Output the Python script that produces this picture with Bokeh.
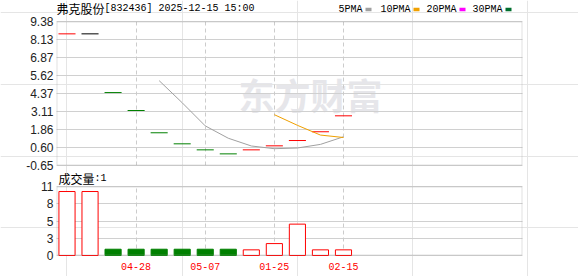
import numpy as np
from bokeh.plotting import figure
from bokeh.models import Range1d, FixedTicker, Label, BoxAnnotation, Grid
from bokeh.core.properties import value
from bokeh.embed import file_html
from bokeh.resources import INLINE

# ---------------- data ----------------
title_name = "弗克股份"
title_code = "[832436] 2025-12-15 15:00"
vol_title = "成交量"
vol_title_num = ":1"
watermark = "东方财富"

closes = [8.52, 8.52, 4.43, 3.18, 1.63, 0.86, 0.44, 0.16, 0.44, 0.72, 1.09, 1.70, 2.81]
volumes = [10.2, 10.2, 1.0, 1.0, 1.0, 1.0, 1.0, 1.0, 0.9, 1.9, 5.0, 0.9, 0.9]
ma5 = [np.nan, np.nan, np.nan, np.nan, 5.26, 3.72, 2.11, 1.25, 0.71, 0.52, 0.57, 0.82, 1.35]
ma10 = [np.nan] * 9 + [2.89, 2.15, 1.47, 1.30]

date_tick_idx = [3, 6, 9, 12]
date_tick_labels = ["04-28", "05-07", "01-25", "02-15"]

price_tick_labels = ["-0.65", "0.60", "1.86", "3.11", "4.37", "5.62", "6.87", "8.13", "9.38"]
price_min, price_max = -0.65, 9.38
vol_tick_labels = ["0", "3", "5", "8", "11"]
vol_max = 11

legend_names = ["5PMA", "10PMA", "20PMA", "30PMA"]
legend_colors = ["#a0a0a0", "#f0a000", "#ff00ff", "#006f2e"]

# ---------------- layout constants (pixels, page coords from top-left) ----------------
W, H = 578, 276
PLOT_L, PLOT_R = 56, 522
PRICE_T, PRICE_B = 21, 165
VOL_T, VOL_B = 186, 255
SLOT = 23.04          # px per candle slot
X0 = -0.4557          # data x at PLOT_L

# ---------------- derived ----------------
RED, GREEN, BLACK = "#ff0000", "#008000", "#000000"
idx = np.arange(len(closes))
candle_colors, bar_line, bar_fill = [], [], []
for i, c in enumerate(closes):
    if i == 0 or c > closes[i - 1]:
        candle_colors.append(RED); bar_line.append(RED); bar_fill.append("white")
    elif c < closes[i - 1]:
        candle_colors.append(GREEN); bar_line.append(GREEN); bar_fill.append(GREEN)
    else:
        candle_colors.append(BLACK); bar_line.append(RED); bar_fill.append("white")

x_left = X0
x_right = X0 + (PLOT_R - PLOT_L) / SLOT
x_range = Range1d(X0 - PLOT_L / SLOT, X0 + (W - PLOT_L) / SLOT)

ppp = (price_max - price_min) / (PRICE_B - PRICE_T)
y_range = Range1d(price_min - (H - PRICE_B) * ppp, price_max + PRICE_T * ppp)
vpp = vol_max / (VOL_B - VOL_T)
vol_range = Range1d(0 - (H - VOL_B) * vpp, vol_max + VOL_T * vpp)

MONO = "Liberation Mono"
CJK = "Noto Sans CJK SC"
SANS = "Liberation Sans"

p = figure(width=W, height=H, x_range=x_range, y_range=y_range,
           output_backend="svg", toolbar_location=None,
           x_axis_location=None, y_axis_location=None,
           min_border_left=0, min_border_right=0, min_border_top=0, min_border_bottom=0)
p.extra_y_ranges = {"vol": vol_range}
p.outline_line_color = None
p.background_fill_color = "white"
p.border_fill_color = "white"

# watermark (below grids)
p.add_layout(Label(x=238, y=H - 93, x_units="screen", y_units="screen", text=watermark,
                   text_font=CJK, text_font_style="bold", text_font_size="36px",
                   text_color="#e6e6ea", text_baseline="middle", level="image"))

# grids
price_ticks = list(np.linspace(price_min, price_max, len(price_tick_labels)))
vol_ticks = list(np.linspace(0, vol_max, len(vol_tick_labels)))
p.add_layout(Grid(dimension=1, ticker=FixedTicker(ticks=price_ticks),
                  grid_line_color="#d0d0d0", cross_bounds=(x_left, x_right)))
p.add_layout(Grid(dimension=1, ticker=FixedTicker(ticks=vol_ticks), y_range_name="vol",
                  grid_line_color="#d0d0d0", cross_bounds=(x_left, x_right)))
p.add_layout(Grid(dimension=0, ticker=FixedTicker(ticks=date_tick_idx),
                  grid_line_color="#cccccc", grid_line_dash="4 3",
                  cross_bounds=(price_min, price_max)))
p.add_layout(Grid(dimension=0, ticker=FixedTicker(ticks=date_tick_idx), y_range_name="vol",
                  grid_line_color="#cccccc", grid_line_dash="4 3",
                  cross_bounds=(0, vol_max)))

# panel borders
for top, bottom in [(PRICE_T, PRICE_B), (VOL_T, VOL_B)]:
    p.add_layout(BoxAnnotation(left=PLOT_L + 0.5, right=PLOT_R - 0.5,
                               bottom=H - bottom + 0.5, top=H - top - 0.5,
                               left_units="screen", right_units="screen",
                               bottom_units="screen", top_units="screen",
                               fill_color=None, line_color="#999999", line_width=1))

# price marks
p.segment(x0=idx - 0.37, y0=closes, x1=idx + 0.37, y1=closes,
          line_color=candle_colors, line_width=1)
p.line(idx, ma5, line_color=legend_colors[0], line_width=1)
p.line(idx, ma10, line_color=legend_colors[1], line_width=1)

# volume bars
p.vbar(x=idx, top=volumes, bottom=0, width=0.7, fill_color=bar_fill,
       line_color=bar_line, line_width=1, y_range_name="vol")

# axis labels
p.text(x=[x_left] * len(price_ticks), y=price_ticks, text=price_tick_labels,
       text_align="right", text_baseline="middle", x_offset=-3,
       text_font=value(SANS), text_font_size="12px", text_color="#222222")
p.text(x=[x_left] * len(vol_ticks), y=vol_ticks, text=vol_tick_labels,
       text_align="right", text_baseline="middle", x_offset=-3,
       text_font=value(SANS), text_font_size="12px", text_color="#222222",
       y_range_name="vol")
p.text(x=date_tick_idx, y=[0] * len(date_tick_idx), text=date_tick_labels,
       text_align="center", text_baseline="middle", y_offset=11,
       text_font=value(MONO), text_font_size="10px", text_color=RED,
       y_range_name="vol")

# title & legend
ty = H - 7.5
p.add_layout(Label(x=PLOT_L, y=ty, x_units="screen", y_units="screen", text=title_name,
                   text_font=CJK, text_font_size="12px", text_color="#000000",
                   text_baseline="middle"))
p.add_layout(Label(x=PLOT_L + 48, y=ty, x_units="screen", y_units="screen", text=title_code,
                   text_font=MONO, text_font_size="10px", text_color="#000000",
                   text_baseline="middle"))
leg_text_x = [338, 380, 426, 472]
ly = H - 8.7
for name, col, lx in zip(legend_names, legend_colors, leg_text_x):
    p.add_layout(Label(x=lx, y=ly, x_units="screen", y_units="screen", text=name,
                       text_font=MONO, text_font_size="10px", text_color="#000000",
                       text_baseline="middle"))
    bx = lx + 6 * len(name) + 3
    p.add_layout(BoxAnnotation(left=bx, right=bx + 6, bottom=ly - 2, top=ly + 1.5,
                               left_units="screen", right_units="screen",
                               bottom_units="screen", top_units="screen",
                               fill_color=col, fill_alpha=1, line_color=None))

vy = H - 177.5
p.add_layout(Label(x=PLOT_L + 2, y=vy, x_units="screen", y_units="screen", text=vol_title,
                   text_font=CJK, text_font_size="12px", text_color="#000000",
                   text_baseline="middle"))
p.add_layout(Label(x=PLOT_L + 38, y=vy, x_units="screen", y_units="screen", text=vol_title_num,
                   text_font=MONO, text_font_size="10px", text_color="#000000",
                   text_baseline="middle"))

open("out.html", "w").write(file_html(p, INLINE))
